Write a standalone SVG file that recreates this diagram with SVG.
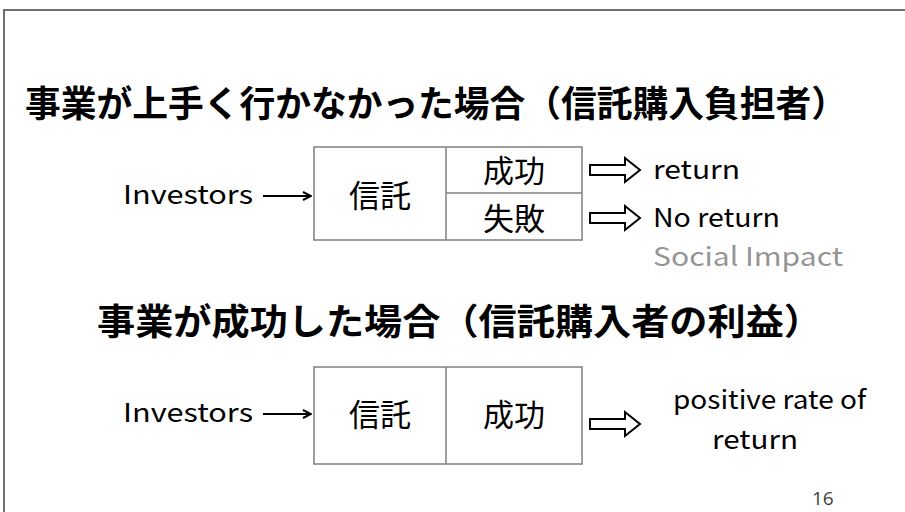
<svg xmlns="http://www.w3.org/2000/svg" width="905" height="512" viewBox="0 0 905 512">
<defs>
<style>
.jp{font-family:"Noto Sans CJK JP","Noto Sans CJK SC",sans-serif;fill:#000}
.title{font-size:36px;font-weight:bold}
.cell{font-size:31px}
.lat{font-family:"Noto Sans CJK JP","Noto Sans",sans-serif;font-size:26px;fill:#000}
.box{fill:#fff;stroke:#808080;stroke-width:1.5}
.conn{stroke:#000;stroke-width:2;fill:none}
.blk{fill:#fff;stroke:#000;stroke-width:2;stroke-linejoin:miter}
</style>
<marker id="ah" viewBox="0 0 10 10" refX="9" refY="5" markerWidth="10" markerHeight="10" markerUnits="userSpaceOnUse" orient="auto">
<path d="M1,1 L9,5 L1,9" fill="none" stroke="#000" stroke-width="2"/>
</marker>
<path id="blockArrow" d="M0,-5 L35,-5 L35,-12 L50,0 L35,12 L35,5 L0,5 Z"/>
</defs>
<rect width="905" height="512" fill="#fff"/>
<path d="M4,512 L4,10 L905,10" fill="none" stroke="#707070" stroke-width="2"/>

<g id="title1"><text class="jp title" x="25" y="117" textLength="822" lengthAdjust="spacingAndGlyphs">事業が上手く行かなかった場合（信託購入負担者）</text></g>

<g id="investors1"><text class="lat" x="123" y="204" textLength="130" lengthAdjust="spacingAndGlyphs">Investors</text></g>
<g id="box1">
<rect class="box" x="314" y="147" width="268" height="93"/>
<line class="box" x1="446" y1="147" x2="446" y2="240"/>
<line class="box" x1="446" y1="193" x2="582" y2="193"/>
<text class="jp cell" x="380" y="207" text-anchor="middle">信託</text>
<text class="jp cell" x="514" y="182" text-anchor="middle">成功</text>
<text class="jp cell" x="514" y="230" text-anchor="middle">失敗</text>
</g>
<g id="out1">
<text class="lat" x="653" y="179" textLength="87" lengthAdjust="spacingAndGlyphs">return</text>
<text class="lat" x="653" y="227" textLength="127" lengthAdjust="spacingAndGlyphs">No return</text>
<text class="lat" x="653" y="266" textLength="190" lengthAdjust="spacingAndGlyphs" style="fill:#959595">Social Impact</text>
</g>

<g id="title2"><text class="jp title" x="97" y="335" textLength="725" lengthAdjust="spacingAndGlyphs">事業が成功した場合（信託購入者の利益）</text></g>

<g id="investors2"><text class="lat" x="123" y="422" textLength="130" lengthAdjust="spacingAndGlyphs">Investors</text></g>
<g id="box2">
<rect class="box" x="314" y="367" width="268" height="97"/>
<line class="box" x1="446" y1="367" x2="446" y2="464"/>
<text class="jp cell" x="380" y="426" text-anchor="middle">信託</text>
<text class="jp cell" x="514" y="426" text-anchor="middle">成功</text>
</g>
<g id="out2">
<text class="lat" x="673" y="409" textLength="193" lengthAdjust="spacingAndGlyphs">positive rate of</text>
<text class="lat" x="712" y="449" textLength="86" lengthAdjust="spacingAndGlyphs">return</text>
</g>

<g id="connectors">
<line class="conn" x1="263" y1="196" x2="311" y2="196" marker-end="url(#ah)"/>
<line class="conn" x1="263" y1="414" x2="311" y2="414" marker-end="url(#ah)"/>
<use href="#blockArrow" class="blk" x="590" y="170"/>
<use href="#blockArrow" class="blk" x="590" y="218"/>
<use href="#blockArrow" class="blk" x="590" y="424"/>
</g>

<text x="812" y="505" style="font-family:'Open Sans','Liberation Sans',sans-serif;font-size:19px;fill:#404040">16</text>
</svg>
